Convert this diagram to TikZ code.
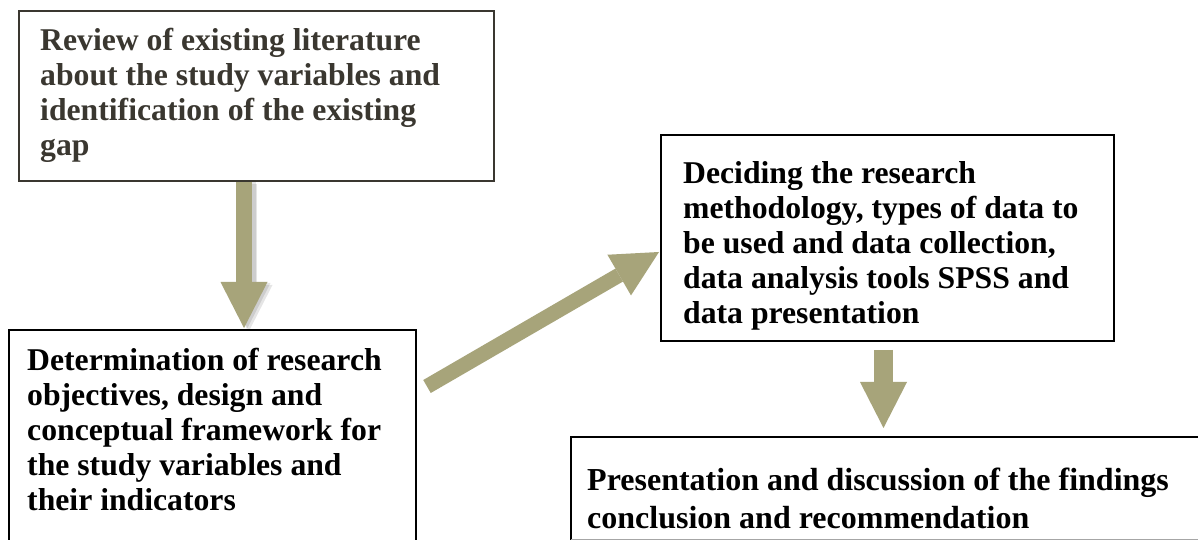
\documentclass[tikz,border=0pt]{standalone}
\usepackage{fontspec}
\setmainfont{Liberation Serif}
\usetikzlibrary{arrows.meta,calc}
\definecolor{arrowfill}{RGB}{167,164,122}
\definecolor{boxgray}{RGB}{58,55,48}
\newcommand{\firstline}{\rule{0pt}{25pt}}
\begin{document}
\begin{tikzpicture}[x=1pt,y=1pt,
  boxshape/.style={draw, line width=2pt, rectangle, inner sep=0pt, anchor=north west},
  txt/.style={anchor=north west, inner sep=0pt, align=left, font=\bfseries\fontsize{31.7}{35}\selectfont},
  flowarrow/.style={draw=arrowfill, line width=#1, -{Triangle[length=46pt,width=47pt,line width=0pt,fill=arrowfill]}},
  shadowarrow/.style={draw=black, opacity=0.10, line width=#1, -{Triangle[length=46pt,width=47pt,line width=0pt]}}]
\useasboundingbox (0,0) rectangle (1198,540);
\clip (0,0) rectangle (1198,540);
\fill[white] (0,0) rectangle (1198,540);

% boxes
\node[boxshape, draw=boxgray, minimum width=475pt, minimum height=170pt] (b1) at (18,530) {};
\node[boxshape, minimum width=407pt, minimum height=240pt] (b2) at (8,211) {};
\node[boxshape, minimum width=453pt, minimum height=206pt] (b3) at (660,406) {};
\node[boxshape, draw=none, minimum width=660pt, minimum height=101pt] (b4) at (571,103) {};
\draw[line width=2pt] (b4.south west) -- (b4.north west) -- (b4.north east);
\draw[line width=1pt, black!35] (b4.south west) -- (b4.south east);

% texts
\node[txt, text=boxgray] (t1) at (40,515) {\firstline Review of existing literature\\ about the study variables and\\ identification of the existing\\ gap};
\node[txt] (t2) at (27,195) {\firstline Determination of research\\ objectives, design and\\ conceptual framework for\\ the study variables and\\ their indicators};
\node[txt] (t3) at (683,382) {\firstline Deciding the research\\ methodology, types of data to\\ be used and data collection,\\ data analysis tools SPSS and\\ data presentation};
\node[txt, font=\bfseries\fontsize{32}{38}\selectfont] (t4) at (587,75) {\firstline Presentation and discussion of the findings\\ conclusion and recommendation};

% arrow 1
\coordinate (a1s) at ([xshift=-12.5pt]b1.south);
\path (a1s |- b2.north) coordinate (a1t);
\coordinate (a1e) at ([yshift=1pt]a1t);
\draw[shadowarrow=16pt] ([xshift=5pt,yshift=-2pt]a1s) -- ([xshift=5pt,yshift=-3pt]a1e);
\draw[shadowarrow=18pt] ([xshift=3pt,yshift=0pt]a1s) -- ([xshift=3pt,yshift=-1pt]a1e);
\draw[flowarrow=16pt] (a1s) -- (a1e);

% arrow 2
\coordinate (a2s) at ([xshift=10pt,yshift=-57.5pt]b2.north east);
\coordinate (a2e) at ([xshift=-1pt,yshift=-118pt]b3.north west);
\draw[flowarrow=15pt] (a2s) -- (a2e);

% arrow 3
\coordinate (a3s) at ([xshift=-4pt,yshift=-8pt]b3.south);
\path (a3s |- b4.north) coordinate (a3t);
\coordinate (a3e) at ([yshift=9pt]a3t);
\draw[flowarrow=19pt] (a3s) -- (a3e);
\end{tikzpicture}
\end{document}
